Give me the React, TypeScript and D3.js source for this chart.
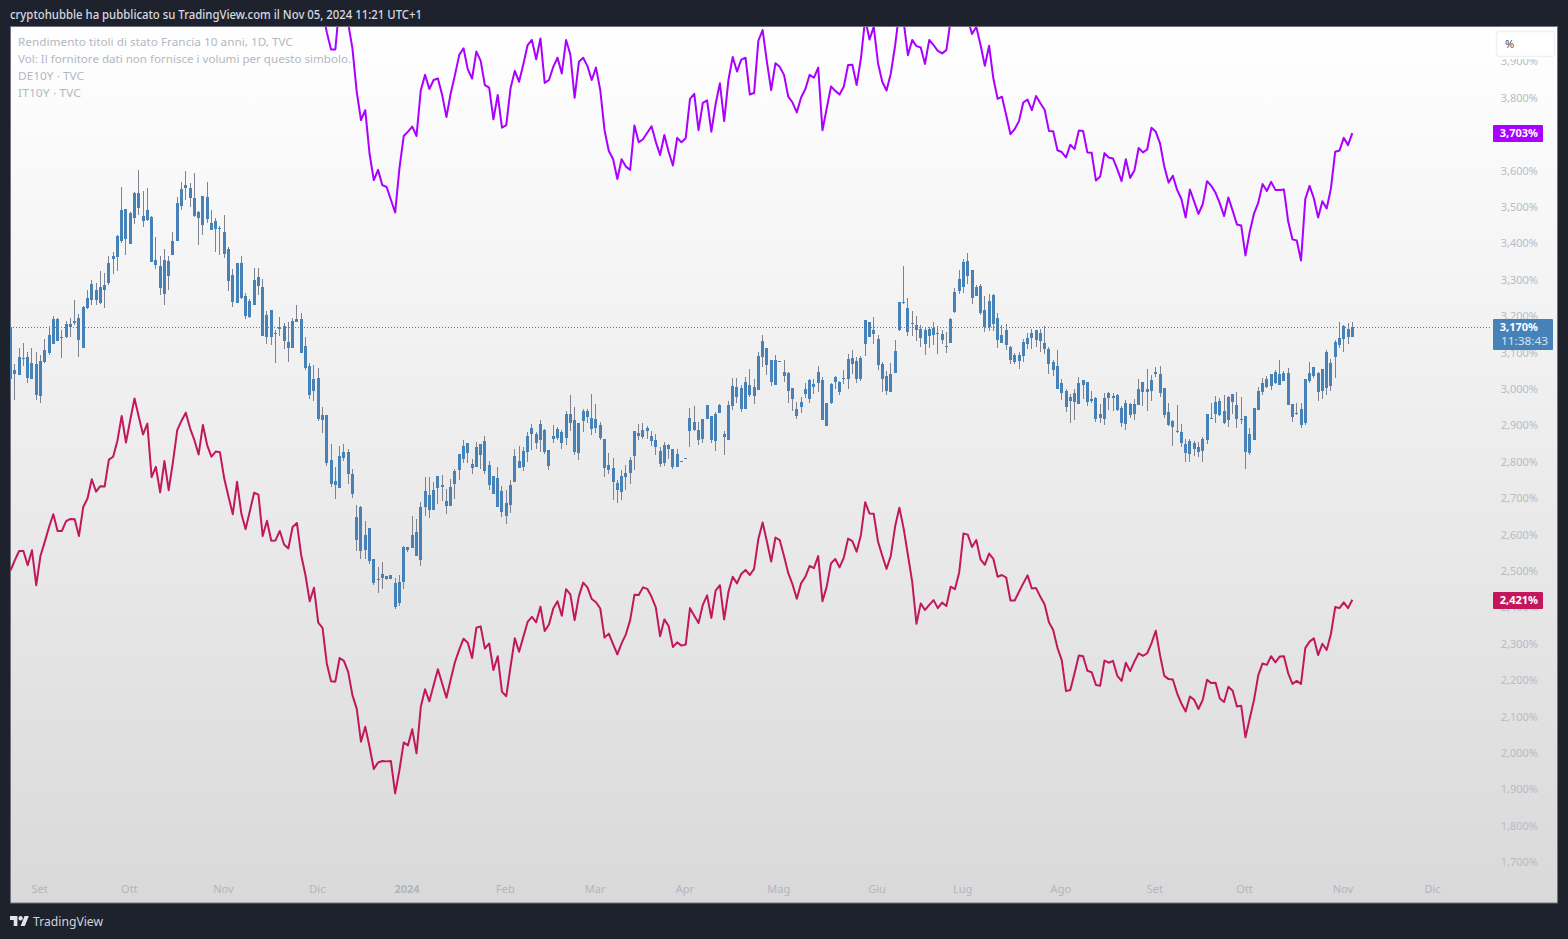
import * as d3 from 'd3';

const bodyTop = [
  3.171,3.052,3.088,3.085,3.088,3.071,3.068,3.077,3.107,3.148,
  3.192,3.192,3.143,3.178,3.179,3.187,3.195,3.225,3.250,3.288,
  3.272,3.280,3.285,3.346,3.365,3.420,3.492,3.494,3.483,3.538,
  3.538,3.475,3.492,3.472,3.354,3.338,3.354,3.351,3.406,3.511,
  3.549,3.560,3.552,3.525,3.486,3.530,3.527,3.456,3.461,3.443,
  3.431,3.384,3.313,3.346,3.346,3.255,3.242,3.299,3.307,3.280,
  3.203,3.217,3.154,3.169,3.173,3.129,3.187,3.192,3.192,3.118,
  3.064,3.028,3.031,2.929,2.929,2.805,2.748,2.816,2.827,2.827,
  2.767,2.649,2.676,2.599,2.618,2.533,2.478,2.492,2.486,2.489,
  2.467,2.470,2.566,2.566,2.599,2.607,2.676,2.720,2.709,2.723,
  2.761,2.737,2.693,2.731,2.775,2.822,2.844,2.852,2.794,2.841,
  2.849,2.857,2.791,2.761,2.756,2.720,2.687,2.737,2.816,2.802,
  2.830,2.871,2.893,2.877,2.904,2.888,2.833,2.871,2.890,2.882,
  2.932,2.932,2.915,2.907,2.940,2.940,2.921,2.918,2.901,2.863,
  2.791,2.783,2.742,2.761,2.770,2.805,2.885,2.879,2.888,2.893,
  2.871,2.860,2.830,2.846,2.846,2.835,2.821,2.802,2.810,2.920,
  2.909,2.887,2.918,2.956,2.926,2.931,2.956,2.876,2.956,3.008,
  3.006,3.003,3.019,3.011,3.006,3.091,3.132,3.113,3.080,3.080,
  3.077,3.047,3.044,3.003,2.945,2.964,3.000,3.025,3.014,3.047,
  3.025,2.962,3.014,3.033,3.019,3.030,3.082,3.085,3.077,3.085,
  3.190,3.184,3.162,3.137,3.069,3.036,3.041,3.104,3.239,3.240,
  3.223,3.181,3.176,3.165,3.162,3.165,3.168,3.154,3.151,3.118,
  3.192,3.267,3.302,3.349,3.352,3.327,3.280,3.283,3.217,3.242,
  3.258,3.195,3.148,3.162,3.115,3.093,3.093,3.129,3.140,3.154,
  3.162,3.154,3.126,3.110,3.074,3.063,3.017,2.995,2.978,2.989,
  3.017,3.025,3.019,2.973,2.975,2.931,2.975,2.989,2.981,2.984,
  2.948,2.962,2.959,2.959,3.000,3.019,3.000,3.025,3.047,3.041,
  3.003,2.937,2.912,2.885,2.882,2.849,2.857,2.852,2.841,2.863,
  2.931,2.920,2.964,2.967,2.940,2.978,2.986,2.956,2.918,2.926,
  2.876,2.948,2.995,3.017,3.028,3.041,3.047,3.041,3.044,3.044,
  2.959,2.934,2.945,3.028,3.044,3.060,3.044,3.055,3.102,3.071,
  3.129,3.140,3.173,3.165,3.170,
];

const bodyBottom = [
  3.027,3.041,3.038,3.082,3.030,3.027,2.983,2.980,3.074,3.099,
  3.123,3.132,3.140,3.143,3.170,3.181,3.134,3.112,3.222,3.244,
  3.244,3.236,3.272,3.291,3.357,3.362,3.406,3.412,3.398,3.470,
  3.497,3.461,3.464,3.349,3.340,3.277,3.261,3.310,3.368,3.406,
  3.503,3.552,3.525,3.475,3.470,3.450,3.467,3.437,3.439,3.440,
  3.371,3.296,3.239,3.236,3.250,3.200,3.198,3.231,3.283,3.145,
  3.143,3.143,3.151,3.165,3.132,3.112,3.112,3.184,3.099,3.057,
  2.984,2.995,2.918,2.915,2.797,2.739,2.737,2.728,2.811,2.767,
  2.712,2.585,2.555,2.558,2.528,2.467,2.475,2.481,2.478,2.478,
  2.401,2.412,2.470,2.558,2.563,2.541,2.530,2.676,2.668,2.668,
  2.728,2.731,2.679,2.679,2.739,2.778,2.808,2.824,2.783,2.786,
  2.819,2.775,2.737,2.712,2.676,2.662,2.651,2.682,2.745,2.783,
  2.786,2.827,2.877,2.852,2.860,2.827,2.789,2.863,2.866,2.852,
  2.866,2.907,2.827,2.824,2.912,2.923,2.890,2.893,2.866,2.783,
  2.778,2.745,2.723,2.717,2.759,2.770,2.816,2.871,2.868,2.885,
  2.857,2.841,2.794,2.797,2.835,2.786,2.786,2.799,2.807,2.885,
  2.887,2.860,2.863,2.918,2.860,2.857,2.934,2.868,2.860,2.953,
  2.978,2.945,2.945,2.984,2.981,2.997,3.088,3.066,3.019,3.011,
  3.074,3.036,2.995,2.973,2.926,2.951,2.986,2.973,3.006,3.017,
  2.915,2.898,2.962,3.019,2.992,3.028,3.028,3.069,3.028,3.028,
  3.124,3.143,3.151,3.066,3.028,2.995,2.992,3.044,3.162,3.236,
  3.157,3.179,3.162,3.140,3.124,3.146,3.148,3.151,3.135,3.115,
  3.126,3.212,3.269,3.280,3.311,3.250,3.256,3.209,3.170,3.170,
  3.179,3.135,3.126,3.121,3.080,3.074,3.077,3.091,3.124,3.140,
  3.135,3.132,3.110,3.069,3.052,3.000,2.989,2.951,2.967,2.964,
  2.959,3.011,2.964,2.967,2.918,2.920,2.918,2.975,2.975,2.942,
  2.907,2.904,2.929,2.931,2.956,2.992,2.992,2.995,3.041,2.989,
  2.929,2.901,2.896,2.882,2.852,2.824,2.821,2.835,2.827,2.830,
  2.860,2.918,2.931,2.929,2.907,2.915,2.964,2.918,2.915,2.827,
  2.824,2.860,2.942,2.992,3.006,3.008,3.017,3.011,3.022,2.956,
  2.923,2.931,2.901,2.907,3.022,3.036,2.992,2.995,3.003,3.008,
  3.088,3.121,3.137,3.143,3.143,
];

const high = [
  3.171,3.068,3.112,3.126,3.101,3.112,3.101,3.093,3.137,3.173,
  3.201,3.195,3.162,3.186,3.195,3.244,3.206,3.228,3.272,3.299,
  3.291,3.324,3.318,3.365,3.376,3.423,3.555,3.494,3.486,3.541,
  3.602,3.544,3.552,3.475,3.417,3.365,3.384,3.365,3.431,3.527,
  3.569,3.599,3.566,3.593,3.489,3.530,3.569,3.492,3.470,3.448,
  3.478,3.390,3.329,3.346,3.365,3.264,3.247,3.332,3.332,3.302,
  3.214,3.217,3.162,3.198,3.181,3.184,3.195,3.231,3.209,3.143,
  3.072,3.066,3.058,2.951,2.929,2.849,2.786,2.844,2.849,2.835,
  2.781,2.682,2.679,2.638,2.618,2.533,2.511,2.525,2.486,2.489,
  2.481,2.489,2.569,2.566,2.651,2.643,2.690,2.759,2.759,2.745,
  2.761,2.764,2.726,2.753,2.781,2.822,2.860,2.852,2.808,2.855,
  2.849,2.871,2.802,2.761,2.786,2.734,2.723,2.750,2.835,2.844,
  2.841,2.882,2.904,2.882,2.915,2.890,2.833,2.901,2.896,2.888,
  2.940,2.984,2.951,2.907,2.945,2.945,2.987,2.959,2.910,2.863,
  2.824,2.811,2.750,2.778,2.791,2.813,2.885,2.904,2.907,2.898,
  2.885,2.876,2.841,2.854,2.849,2.835,2.835,2.802,2.810,2.948,
  2.953,2.909,2.918,2.956,2.926,2.937,2.959,2.885,2.967,3.030,
  3.030,3.011,3.033,3.055,3.028,3.102,3.148,3.113,3.080,3.093,
  3.077,3.080,3.047,3.003,2.964,2.978,3.017,3.028,3.028,3.063,
  3.033,2.962,3.017,3.036,3.022,3.052,3.096,3.107,3.088,3.091,
  3.190,3.184,3.198,3.148,3.074,3.049,3.071,3.135,3.239,3.338,
  3.250,3.214,3.201,3.176,3.170,3.170,3.184,3.173,3.162,3.157,
  3.195,3.278,3.327,3.357,3.374,3.327,3.286,3.289,3.256,3.261,
  3.261,3.209,3.176,3.179,3.118,3.099,3.102,3.137,3.154,3.165,
  3.162,3.165,3.173,3.115,3.080,3.107,3.028,3.000,2.986,3.000,
  3.033,3.025,3.019,2.995,2.978,2.959,2.989,2.992,2.989,2.986,
  2.953,2.970,2.962,2.973,3.028,3.019,3.055,3.038,3.060,3.063,
  3.003,2.962,2.915,2.956,2.904,2.863,2.863,2.857,2.854,2.868,
  2.931,2.962,2.981,2.975,2.984,2.981,2.986,2.992,2.978,2.926,
  2.893,2.948,3.006,3.030,3.036,3.041,3.052,3.080,3.049,3.058,
  2.959,2.962,2.962,3.028,3.074,3.060,3.047,3.055,3.107,3.082,
  3.135,3.184,3.176,3.181,3.184,
];

const low = [
  3.027,2.970,3.038,3.063,3.016,3.027,2.969,2.961,3.071,3.093,
  3.123,3.132,3.085,3.140,3.143,3.176,3.088,3.112,3.220,3.231,
  3.231,3.233,3.222,3.285,3.316,3.324,3.401,3.368,3.398,3.453,
  3.478,3.445,3.461,3.349,3.329,3.258,3.231,3.272,3.368,3.406,
  3.492,3.519,3.500,3.472,3.395,3.423,3.456,3.437,3.376,3.368,
  3.360,3.269,3.225,3.236,3.247,3.192,3.195,3.231,3.258,3.145,
  3.123,3.121,3.071,3.145,3.110,3.074,3.112,3.184,3.099,3.052,
  2.973,2.967,2.912,2.879,2.789,2.731,2.698,2.728,2.802,2.739,
  2.701,2.555,2.533,2.533,2.519,2.462,2.440,2.451,2.475,2.478,
  2.396,2.404,2.451,2.552,2.563,2.541,2.514,2.651,2.646,2.668,
  2.684,2.693,2.657,2.679,2.698,2.750,2.797,2.797,2.767,2.786,
  2.781,2.767,2.723,2.712,2.676,2.649,2.629,2.660,2.745,2.783,
  2.775,2.800,2.833,2.835,2.827,2.822,2.778,2.852,2.860,2.835,
  2.846,2.885,2.819,2.805,2.882,2.907,2.874,2.879,2.860,2.759,
  2.767,2.695,2.687,2.695,2.723,2.739,2.778,2.860,2.863,2.863,
  2.843,2.819,2.786,2.788,2.808,2.780,2.786,2.799,2.807,2.841,
  2.885,2.846,2.852,2.918,2.852,2.830,2.934,2.819,2.860,2.942,
  2.962,2.937,2.945,2.978,2.959,2.997,3.060,3.038,3.008,3.011,
  3.074,3.019,2.962,2.940,2.918,2.934,2.975,2.962,2.986,2.992,
  2.915,2.898,2.959,3.000,2.984,3.014,3.000,3.041,3.017,3.022,
  3.091,3.143,3.124,3.052,2.992,2.984,2.992,3.044,3.159,3.234,
  3.146,3.146,3.132,3.115,3.093,3.113,3.121,3.096,3.124,3.099,
  3.126,3.209,3.261,3.264,3.289,3.234,3.256,3.203,3.157,3.159,
  3.159,3.113,3.126,3.107,3.069,3.069,3.055,3.074,3.110,3.110,
  3.115,3.102,3.096,3.041,3.036,3.000,2.970,2.937,2.907,2.915,
  2.959,2.973,2.953,2.962,2.909,2.907,2.901,2.942,2.940,2.940,
  2.896,2.887,2.920,2.915,2.956,2.953,2.940,2.967,3.033,2.978,
  2.920,2.898,2.843,2.879,2.841,2.799,2.799,2.816,2.813,2.799,
  2.849,2.918,2.907,2.926,2.904,2.896,2.931,2.893,2.904,2.780,
  2.819,2.860,2.942,2.984,3.003,2.997,3.014,3.011,3.022,2.956,
  2.909,2.929,2.893,2.901,3.017,3.030,2.967,2.973,2.984,2.995,
  3.030,3.113,3.102,3.124,3.143,
];

const de10y = [
  2.502,2.530,2.555,2.555,2.516,2.557,2.461,2.542,2.580,2.621,
  2.656,2.610,2.610,2.637,2.643,2.642,2.596,2.676,2.699,2.752,
  2.718,2.733,2.732,2.806,2.814,2.858,2.926,2.853,2.915,2.974,
  2.924,2.875,2.905,2.758,2.786,2.716,2.802,2.722,2.800,2.887,
  2.913,2.935,2.892,2.860,2.820,2.901,2.846,2.814,2.828,2.826,
  2.754,2.704,2.656,2.745,2.658,2.615,2.665,2.715,2.710,2.596,
  2.638,2.583,2.584,2.610,2.573,2.562,2.621,2.632,2.544,2.489,
  2.417,2.454,2.358,2.344,2.246,2.197,2.196,2.261,2.253,2.223,
  2.159,2.122,2.031,2.072,2.017,1.956,1.974,1.978,1.977,1.978,
  1.889,1.953,2.029,2.021,2.065,1.999,2.127,2.175,2.142,2.186,
  2.230,2.191,2.152,2.202,2.250,2.284,2.314,2.303,2.261,2.344,
  2.348,2.287,2.301,2.228,2.266,2.168,2.156,2.237,2.315,2.278,
  2.319,2.360,2.374,2.359,2.402,2.335,2.353,2.397,2.417,2.377,
  2.450,2.436,2.365,2.431,2.468,2.455,2.423,2.414,2.397,2.317,
  2.328,2.299,2.271,2.301,2.326,2.365,2.435,2.434,2.455,2.451,
  2.429,2.400,2.321,2.367,2.349,2.291,2.304,2.295,2.298,2.398,
  2.377,2.357,2.407,2.433,2.371,2.446,2.461,2.367,2.443,2.484,
  2.466,2.492,2.503,2.489,2.506,2.588,2.633,2.581,2.526,2.592,
  2.585,2.541,2.494,2.463,2.424,2.466,2.484,2.514,2.508,2.541,
  2.417,2.457,2.521,2.533,2.510,2.537,2.589,2.582,2.553,2.599,
  2.689,2.658,2.657,2.581,2.542,2.506,2.542,2.622,2.674,2.617,
  2.544,2.471,2.355,2.411,2.393,2.407,2.420,2.398,2.413,2.404,
  2.457,2.450,2.496,2.603,2.600,2.566,2.585,2.532,2.517,2.548,
  2.533,2.484,2.489,2.482,2.419,2.419,2.443,2.466,2.488,2.452,
  2.453,2.429,2.408,2.359,2.338,2.289,2.255,2.170,2.173,2.219,
  2.268,2.266,2.226,2.222,2.187,2.185,2.254,2.248,2.253,2.212,
  2.198,2.248,2.225,2.251,2.274,2.267,2.274,2.301,2.336,2.269,
  2.212,2.203,2.202,2.164,2.136,2.114,2.155,2.146,2.121,2.146,
  2.201,2.192,2.193,2.150,2.140,2.182,2.171,2.128,2.130,2.043,
  2.095,2.146,2.214,2.246,2.242,2.266,2.249,2.265,2.266,2.219,
  2.190,2.198,2.190,2.288,2.306,2.315,2.269,2.300,2.283,2.327,
  2.401,2.398,2.414,2.398,2.421,
];

// IT10Y is off the top of the pane before this bar, only the visible part is read
const it10yFirstBar = 73;
const it10y = [
  4.037,3.980,3.933,3.933,4.062,4.055,4.005,
  3.936,3.817,3.739,3.766,3.647,3.574,3.602,3.560,3.555,3.520,
  3.485,3.606,3.695,3.707,3.721,3.695,3.821,3.863,3.824,3.849,
  3.853,3.808,3.747,3.812,3.863,3.918,3.936,3.878,3.853,3.927,
  3.902,3.835,3.828,3.741,3.808,3.718,3.725,3.826,3.874,3.844,
  3.892,3.945,3.959,3.906,3.963,3.841,3.849,3.885,3.910,3.867,
  3.959,3.919,3.800,3.899,3.910,3.887,3.849,3.883,3.821,3.711,
  3.654,3.632,3.577,3.631,3.611,3.602,3.724,3.678,3.686,3.704,
  3.722,3.679,3.643,3.698,3.652,3.614,3.690,3.678,3.689,3.797,
  3.811,3.711,3.786,3.793,3.707,3.783,3.840,3.736,3.849,3.912,
  3.872,3.905,3.910,3.809,3.813,3.957,3.986,3.899,3.821,3.895,
  3.885,3.863,3.803,3.787,3.760,3.801,3.824,3.863,3.855,3.883,
  3.711,3.771,3.831,3.819,3.809,3.831,3.890,3.891,3.835,3.908,
  4.018,3.960,3.995,3.895,3.844,3.820,3.867,3.943,4.037,4.009,
  3.917,3.959,3.942,3.938,3.893,3.959,3.945,3.929,3.922,3.931,
  4.014,4.037,4.055,4.046,4.018,3.975,3.995,3.945,3.888,3.943,
  3.853,3.797,3.803,3.753,3.700,3.714,3.736,3.787,3.795,3.766,
  3.805,3.785,3.767,3.709,3.708,3.656,3.651,3.636,3.671,3.659,
  3.710,3.709,3.650,3.649,3.573,3.584,3.648,3.636,3.633,3.604,
  3.571,3.631,3.580,3.600,3.662,3.650,3.658,3.718,3.707,3.675,
  3.611,3.567,3.586,3.547,3.522,3.471,3.548,3.515,3.481,3.508,
  3.571,3.558,3.539,3.510,3.475,3.526,3.490,3.452,3.449,3.367,
  3.432,3.482,3.512,3.563,3.544,3.569,3.547,3.547,3.548,3.460,
  3.411,3.408,3.353,3.522,3.558,3.524,3.471,3.516,3.496,3.551,
  3.652,3.655,3.690,3.670,3.703,
];

const monthLabels = ['Set','Ott','Nov','Dic','2024','Feb','Mar','Apr','Mag','Giu','Lug','Ago','Set','Ott','Nov','Dic'];
const monthBars = [7,28,50,72,93,116,137,158,180,203,223,246,268,289,312,333];
const priceTicks = d3.range(17, 40).map((d) => d / 10);
const legendLines = [
  'Rendimento titoli di stato Francia 10 anni, 1D, TVC',
  'Vol: Il fornitore dati non fornisce i volumi per questo simbolo.',
  'DE10Y · TVC',
  'IT10Y · TVC',
];
const legendWidths = [275, 333, 66, 63];
const lastFrance = 3.17;
const lastIt = 3.703;
const lastDe = 2.421;

const FONT = '"Noto Sans", sans-serif';
const DARK = '#1e222d';
const BLUE = '#4682b8';
const PURPLE = '#aa00ff';
const RED = '#c2185b';

const pane = { left: 10, top: 27, right: 1557, bottom: 903 };

const xScale = d3.scaleLinear().domain([0, 314]).range([10.6, 1352.3]);
const yScale = d3.scaleLinear().domain([2, 3]).range([753, 389]);

const formatPrice = (v: number) => d3.format('.3f')(v).replace('.', ',') + '%';

export default function App() {
  const line = d3
    .line<number>()
    .x((_, i) => xScale(i))
    .y((d) => yScale(d));
  const itLine = d3
    .line<number>()
    .x((_, i) => xScale(i + it10yFirstBar))
    .y((d) => yScale(d));

  return (
    <svg
      width={1568}
      height={939}
      style={{ position: 'absolute', left: 0, top: 0, display: 'block' }}
      fontFamily={FONT}
    >
      <defs>
        <linearGradient id="paneBg" x1="0" y1="0" x2="0" y2="1">
          <stop offset="0" stopColor="#ffffff" />
          <stop offset="1" stopColor="#d9d9d9" />
        </linearGradient>
        <clipPath id="paneClip">
          <rect x={pane.left} y={pane.top} width={pane.right - pane.left} height={pane.bottom - pane.top} />
        </clipPath>
      </defs>

      <rect width={1568} height={939} fill={DARK} />
      <rect
        x={pane.left + 0.5}
        y={pane.top - 0.5}
        width={pane.right - pane.left}
        height={pane.bottom - pane.top + 0.5}
        fill="url(#paneBg)"
        stroke="#70737d"
      />

      <text x={10} y={18.5} fontSize={12} fontWeight={500} fill="#d8dae0" textLength={412} lengthAdjust="spacingAndGlyphs">
        cryptohubble ha pubblicato su TradingView.com il Nov 05, 2024 11:21 UTC+1
      </text>

      {/* time axis */}
      {monthLabels.map((label, i) => (
        <text
          key={i}
          x={xScale(monthBars[i]) - 0.9}
          y={893}
          textAnchor="middle"
          fontSize={11}
          fontWeight={label === '2024' ? 700 : 400}
          fill="#b2b5be"
        >
          {label}
        </text>
      ))}

      {/* price axis */}
      {priceTicks.map((t) => (
        <text key={t} x={1538} y={yScale(t) + 4} textAnchor="end" fontSize={11} fill="#b9bbc4">
          {formatPrice(t)}
        </text>
      ))}

      <g clipPath="url(#paneClip)">
        <line
          x1={pane.left}
          x2={1490}
          y1={Math.round(yScale(lastFrance)) + 0.5}
          y2={Math.round(yScale(lastFrance)) + 0.5}
          stroke={BLUE}
          strokeDasharray="1 2"
        />

        {bodyTop.map((top, i) => {
          const px = Math.round(xScale(i) - 0.5);
          const yTop = Math.round(yScale(top));
          const yBottom = Math.round(yScale(bodyBottom[i]));
          const yHigh = Math.round(yScale(high[i]));
          const yLow = Math.round(yScale(low[i]));
          return (
            <g key={i}>
              <rect x={px} y={yHigh} width={1} height={Math.max(yLow - yHigh, 1)} fill="#7f828e" />
              <rect x={px - 1} y={yTop} width={3} height={Math.max(yBottom - yTop, 1)} fill={BLUE} />
            </g>
          );
        })}

        <path d={line(de10y) ?? ''} fill="none" stroke={RED} strokeWidth={2} strokeLinejoin="round" />
        <path d={itLine(it10y) ?? ''} fill="none" stroke={PURPLE} strokeWidth={2} strokeLinejoin="round" />
      </g>

      {/* legend */}
      {legendLines.map((t, i) => (
        <text
          key={i}
          x={18}
          y={46 + i * 17}
          fontSize={11}
          fill="#b5b8c2"
          textLength={legendWidths[i]}
          lengthAdjust="spacingAndGlyphs"
        >
          {t}
        </text>
      ))}

      {/* unit box, it hides the top of the 3,900% label */}
      <rect x={1492} y={28} width={64} height={31} fill="#ffffff" />
      <rect x={1496.5} y={31.5} width={58} height={25} rx={3} fill="#ffffff" stroke="#eef0f5" strokeWidth={1.5} />
      <text x={1505} y={48} fontSize={11} fill="#4a4d57">%</text>

      {/* last value labels */}
      <rect x={1493} y={125} width={50} height={17} rx={1} fill={PURPLE} />
      <text x={1538} y={yScale(lastIt) + 4} textAnchor="end" fontSize={11} fontWeight={700} fill="#ffffff">
        {formatPrice(lastIt)}
      </text>
      <rect x={1493} y={592} width={50} height={17} rx={1} fill={RED} />
      <text x={1538} y={yScale(lastDe) + 4} textAnchor="end" fontSize={11} fontWeight={700} fill="#ffffff">
        {formatPrice(lastDe)}
      </text>
      <rect x={1493} y={319} width={60} height={31} rx={1} fill={BLUE} />
      <text x={1538} y={yScale(lastFrance) + 4} textAnchor="end" fontSize={11} fontWeight={700} fill="#ffffff">
        {formatPrice(lastFrance)}
      </text>
      <text x={1501} y={345} fontSize={11.5} fill="#d5e2ef" textLength={47} lengthAdjust="spacingAndGlyphs">
        11:38:43
      </text>

      {/* footer logo */}
      <g transform="translate(10 913.8) scale(0.53 0.56)" fill="#e4e5ea">
        <path d="M14 22H7V11H0V4h14v18zM28 22h-8l7.5-18h8L28 22z" />
        <circle cx={20} cy={8} r={4} />
      </g>
      <text x={33} y={926} fontSize={13} fill="#d1d4dc" textLength={70} lengthAdjust="spacingAndGlyphs">
        TradingView
      </text>
    </svg>
  );
}
